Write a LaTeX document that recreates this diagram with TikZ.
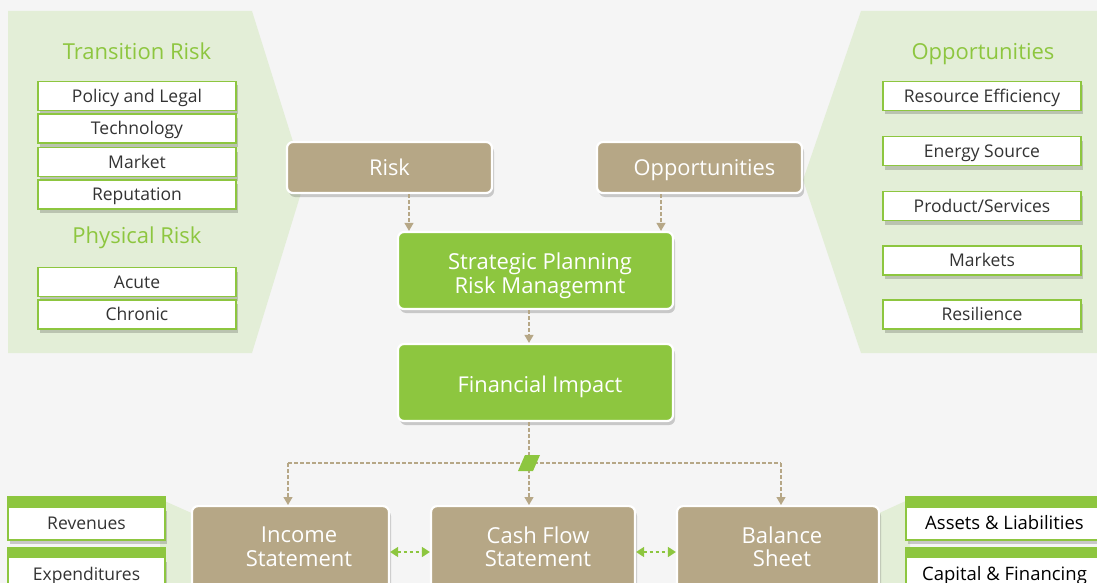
\documentclass[tikz,border=0pt]{standalone}
\usepackage{fontspec}
\setmainfont{Open Sans}
\usetikzlibrary{shadows,arrows.meta}
\definecolor{bg}{HTML}{F5F5F5}
\definecolor{pan}{HTML}{E3EED7}
\definecolor{grn}{HTML}{8DC63F}
\definecolor{tanc}{HTML}{B6A786}
\definecolor{txt}{HTML}{333333}
\tikzset{
  shad/.style={drop shadow={shadow xshift=2pt,shadow yshift=-4pt,opacity=0.18,fill=black}},
  listbox/.style={draw=grn,line width=1.3pt,fill=white,minimum width=198pt,minimum height=29pt,inner sep=0pt,
     font=\fontsize{17.5}{20}\selectfont,text=txt,shad,text height=12.5pt,text depth=0pt},
  subbox/.style={draw=grn,line width=1.3pt,fill=white,minimum height=33pt,inner sep=0pt,
     font=\fontsize{17.5}{20}\selectfont,shad,text height=12.5pt,text depth=0pt},
  title/.style={font=\fontsize{22}{25}\selectfont,text=grn,text height=15.7pt,text depth=0pt,inner sep=0pt},
  tanbox/.style={draw=white,line width=2.2pt,fill=tanc,rounded corners=6pt,text=white,align=center,
     font=\fontsize{21.8}{24}\selectfont,shad,inner sep=0pt},
  grnbox/.style={tanbox,fill=grn},
  btext/.style={text=white,align=center,font=\fontsize{22}{23.5}\selectfont},
  conn/.style={draw=tanc,line width=1.2pt,dash pattern=on 3.5pt off 2.5pt,-{Triangle[width=9pt,length=8pt]}},
  dconn/.style={draw=grn,line width=1.5pt,dash pattern=on 3.5pt off 2.5pt,{Triangle[width=10pt,length=8pt]}-{Triangle[width=10pt,length=8pt]}},
}
\begin{document}
\begin{tikzpicture}[x=1pt,y=-1pt]
\useasboundingbox (0,0) rectangle (1097,583);
\clip (0,0) rectangle (1097,583);
\fill[bg] (0,0) rectangle (1097,583);
% side panels
\fill[pan] (8,11) -- (252,11) -- (305,180) -- (252,353) -- (8,353) -- cycle;
\fill[pan] (861,11) -- (1097,11) -- (1097,353) -- (861,353) -- (803,180) -- cycle;
% bottom connectors panels
\fill[pan] (160,499) -- (196,515) -- (196,590) -- (160,590) -- cycle;
\fill[pan] (910,499) -- (875,515) -- (875,590) -- (910,590) -- cycle;

% left list
\node[title] (trt) at (137,52) {Transition Risk};
\node[listbox] (pl) at (137,96) {Policy and Legal};
\node[listbox] (te) at (137,128.5) {Technology};
\node[listbox] (ma) at (137,162) {Market};
\node[listbox] (re) at (137,194.5) {Reputation};
\node[title] (pht) at (137,236) {Physical Risk};
\node[listbox] (ac) at (137,282) {Acute};
\node[listbox] (ch) at (137,314.5) {Chronic};

% right list
\node[title] (opt) at (983,52) {Opportunities};
\node[listbox] (r1) at (982,96) {Resource Efficiency};
\node[listbox] (r2) at (982,151) {Energy Source};
\node[listbox] (r3) at (982,206) {Product/Services};
\node[listbox] (r4) at (982,260.5) {Markets};
\node[listbox] (r5) at (982,314.5) {Resilience};

% central boxes
\node[tanbox,minimum width=205pt,minimum height=51pt,text height=15.6pt,text depth=0pt] (risk) at (389.5,167.5) {Risk};
\node[tanbox,minimum width=205pt,minimum height=51pt,text height=15.6pt,text depth=0pt] (opp) at (699.5,167.5) {\hspace*{10pt}Opportunities};
\node[grnbox,minimum width=275pt,minimum height=77pt] (sp) at (535.5,270.5) {};
\node[btext] (spt) at (540,276) {Strategic Planning\\Risk Managemnt};
\node[grnbox,minimum width=275pt,minimum height=77pt] (fi) at (535.5,382.5) {};
\node[text=white,font=\fontsize{21.8}{24}\selectfont,text height=15.6pt,text depth=0pt,inner sep=0pt] (fit) at (540,385) {Financial Impact};

% bottom boxes
\node[tanbox,minimum width=197pt,minimum height=100pt,anchor=north] (inc) at (290.5,505) {};
\node[btext] (inct) at (299,546.5) {Income\\Statement};
\node[tanbox,minimum width=204pt,minimum height=100pt,anchor=north] (cfs) at (533,505) {};
\node[btext] (cfst) at (538,546.5) {Cash Flow\\Statement};
\node[tanbox,minimum width=202pt,minimum height=100pt,anchor=north] (bs) at (778,505) {};
\node[btext] (bst) at (782,546.5) {Balance\\Sheet};

% bottom side boxes
\node[subbox,minimum width=157pt,text=txt] (rev) at (86.5,523.5) {Revenues};
\fill[grn] (rev.north west) rectangle ([yshift=10pt]rev.north east);
\node[subbox,minimum width=157pt,text=txt,anchor=north] (exp) at (86.5,557) {Expenditures};
\fill[grn] (exp.north west) rectangle ([yshift=10pt]exp.north east);
\node[subbox,minimum width=195pt,text=black,font=\fontsize{18.5}{20}\selectfont] (al) at (1003.5,523.5) {\hspace*{2pt}Assets \& Liabilities};
\fill[grn] (al.north west) rectangle ([yshift=10pt]al.north east);
\node[subbox,minimum width=195pt,text=black,anchor=north,font=\fontsize{18.5}{20}\selectfont] (cf) at (1003.5,557) {\hspace*{2pt}Capital \& Financing};
\fill[grn] (cf.north west) rectangle ([yshift=10pt]cf.north east);

% connectors
\draw[conn] ([xshift=19.5pt]risk.south) -- ([xshift=19.5pt]risk.south |- sp.north);
\draw[conn] ([xshift=-38.5pt]opp.south) -- ([xshift=-38.5pt]opp.south |- sp.north);
\draw[conn] ([xshift=-6.5pt]sp.south) -- ([xshift=-6.5pt]fi.north);
\coordinate (j) at (529,463);
\coordinate (jl) at (288,463);
\coordinate (jr) at (781,463);
\draw[conn,-] ([xshift=-6.5pt]fi.south) -- (j);
\draw[conn,-] (jl) -- (jr);
\draw[conn] (jl) -- (jl |- inc.north);
\draw[conn] (j) -- (j |- cfs.north);
\draw[conn] (jr) -- (jr |- bs.north);
\fill[grn] (518,471) -- (533,471) -- (540,455) -- (525,455) -- cycle;
\draw[dconn] (inc.east |- 0,552) -- (cfs.west |- 0,552);
\draw[dconn] (cfs.east |- 0,552) -- (bs.west |- 0,552);
\end{tikzpicture}
\end{document}
